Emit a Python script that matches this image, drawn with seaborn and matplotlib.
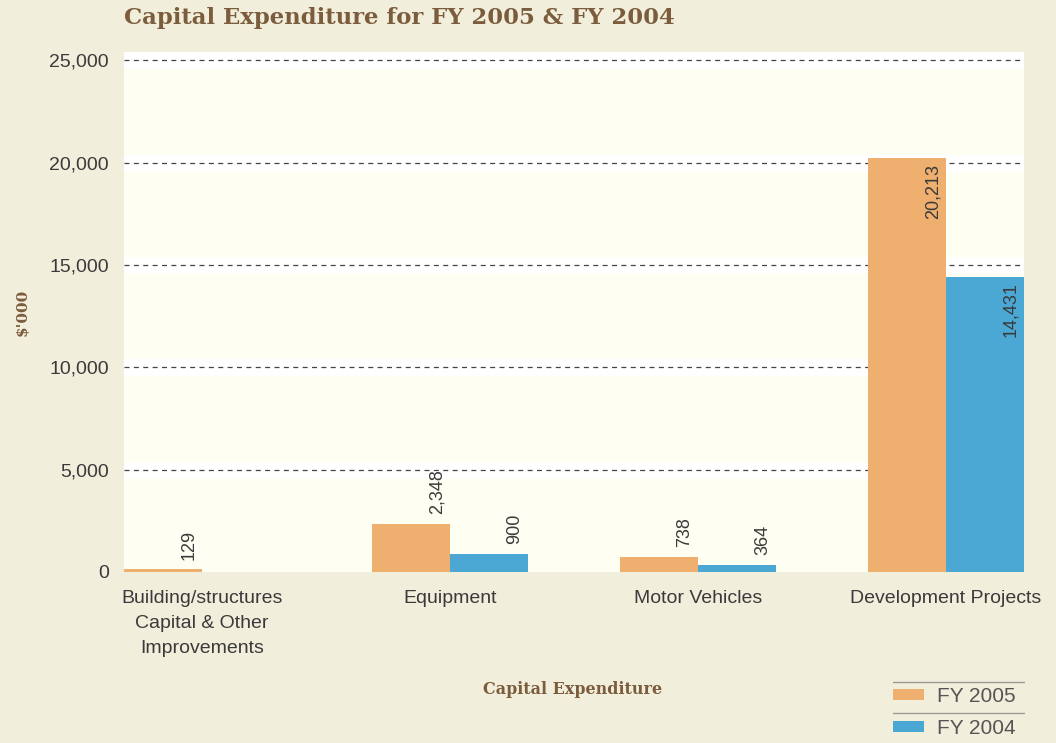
import matplotlib
matplotlib.use("Agg")
import matplotlib.pyplot as plt
import seaborn as sns
import pandas as pd
from matplotlib.lines import Line2D
from matplotlib.ticker import FuncFormatter

categories = ["Building/structures\nCapital & Other\nImprovements", "Equipment",
              "Motor Vehicles", "Development Projects"]
years = ["FY 2005", "FY 2004"]
fy2005 = [129, 2348, 738, 20213]
fy2004 = [0, 900, 364, 14431]
yticks = [0, 5000, 10000, 15000, 20000, 25000]

colors = ["#EFB06F", "#4BA7D4"]
fig_bg = "#F2EEDC"
ax_bg = "#FFFEF2"
brown = "#7B5C3C"
txt = "#3A3A3A"

df = pd.DataFrame({
    "category": categories * 2,
    "value": fy2005 + fy2004,
    "year": [years[0]] * 4 + [years[1]] * 4,
})

sns.set_theme(style="white")
plt.rcParams["font.family"] = ["Liberation Sans", "DejaVu Sans"]

fig = plt.figure(figsize=(10.56, 7.43), dpi=100, facecolor=fig_bg)
ax = fig.add_axes([124 / 1056, 1 - 572 / 743, 900 / 1056, 520 / 743])
ax.set_facecolor(ax_bg)

sns.barplot(data=df, x="category", y="value", hue="year", hue_order=years,
            palette=colors, width=0.629, gap=0, errorbar=None, saturation=1,
            ax=ax, legend=True, linewidth=0)

for p in ax.patches:
    p.set_zorder(2)

ax.set_ylim(0, 25400)
ax.set_xlim(-0.3145, 3.3145)
ax.set_yticks(yticks)
ax.yaxis.set_major_formatter(FuncFormatter(lambda v, _: f"{int(v):,}"))
for y in yticks[1:]:
    ax.axhline(y, color="white", lw=12, zorder=0.5)
    ax.axhline(y, color="#444444", lw=0.9, ls=(0, (4, 3.5)), zorder=0.6)

for s in ax.spines.values():
    s.set_visible(False)
ax.tick_params(axis="both", length=0, labelsize=14, labelcolor=txt)
ax.tick_params(axis="y", pad=11)
ax.tick_params(axis="x", pad=13)
for lab in ax.get_xticklabels():
    lab.set_linespacing(1.6)
ax.set_xlabel("")
ax.set_ylabel("")

for cont, vals in zip(ax.containers, [fy2005, fy2004]):
    for bar, v in zip(cont, vals):
        if v == 0:
            continue
        x = bar.get_x() + bar.get_width() * 0.83
        h = bar.get_height()
        if v > 10000:
            ax.annotate(f"{v:,}", (x, h), xytext=(0, -4), textcoords="offset points",
                        rotation=90, ha="center", va="top", fontsize=13, color=txt,
                        zorder=3)
        else:
            ax.annotate(f"{v:,}", (x, h), xytext=(0, 7), textcoords="offset points",
                        rotation=90, ha="center", va="bottom", fontsize=13, color=txt,
                        zorder=3)

handles, labels = ax.get_legend_handles_labels()
ax.get_legend().remove()

fig.text(124 / 1056, 1 - 18 / 743, "Capital Expenditure for FY 2005 & FY 2004",
         family="DejaVu Serif", weight="bold", fontsize=16.4, color=brown,
         ha="left", va="center")
fig.text(23 / 1056, 1 - 312 / 743, "$'000", family="DejaVu Serif", weight="bold",
         fontsize=11, color=brown, rotation=90, ha="center", va="center")
fig.text(573 / 1056, 1 - 690 / 743, "Capital Expenditure", family="DejaVu Serif",
         weight="bold", fontsize=11.5, color=brown, ha="center", va="center")

leg = fig.legend(handles, labels, loc="upper left",
                 bbox_to_anchor=(893 / 1056, 1 - 687 / 743),
                 frameon=False, fontsize=15, labelcolor="#555555",
                 handlelength=1.5, handleheight=0.48, handletextpad=0.6,
                 labelspacing=0.62, borderpad=0, borderaxespad=0)

for yy in [682, 713]:
    fig.add_artist(Line2D([893 / 1056, 1024 / 1056], [1 - yy / 743, 1 - yy / 743],
                          color="#9A9A90", lw=1.0))

fig.savefig("out.png", dpi=100, facecolor=fig_bg)
